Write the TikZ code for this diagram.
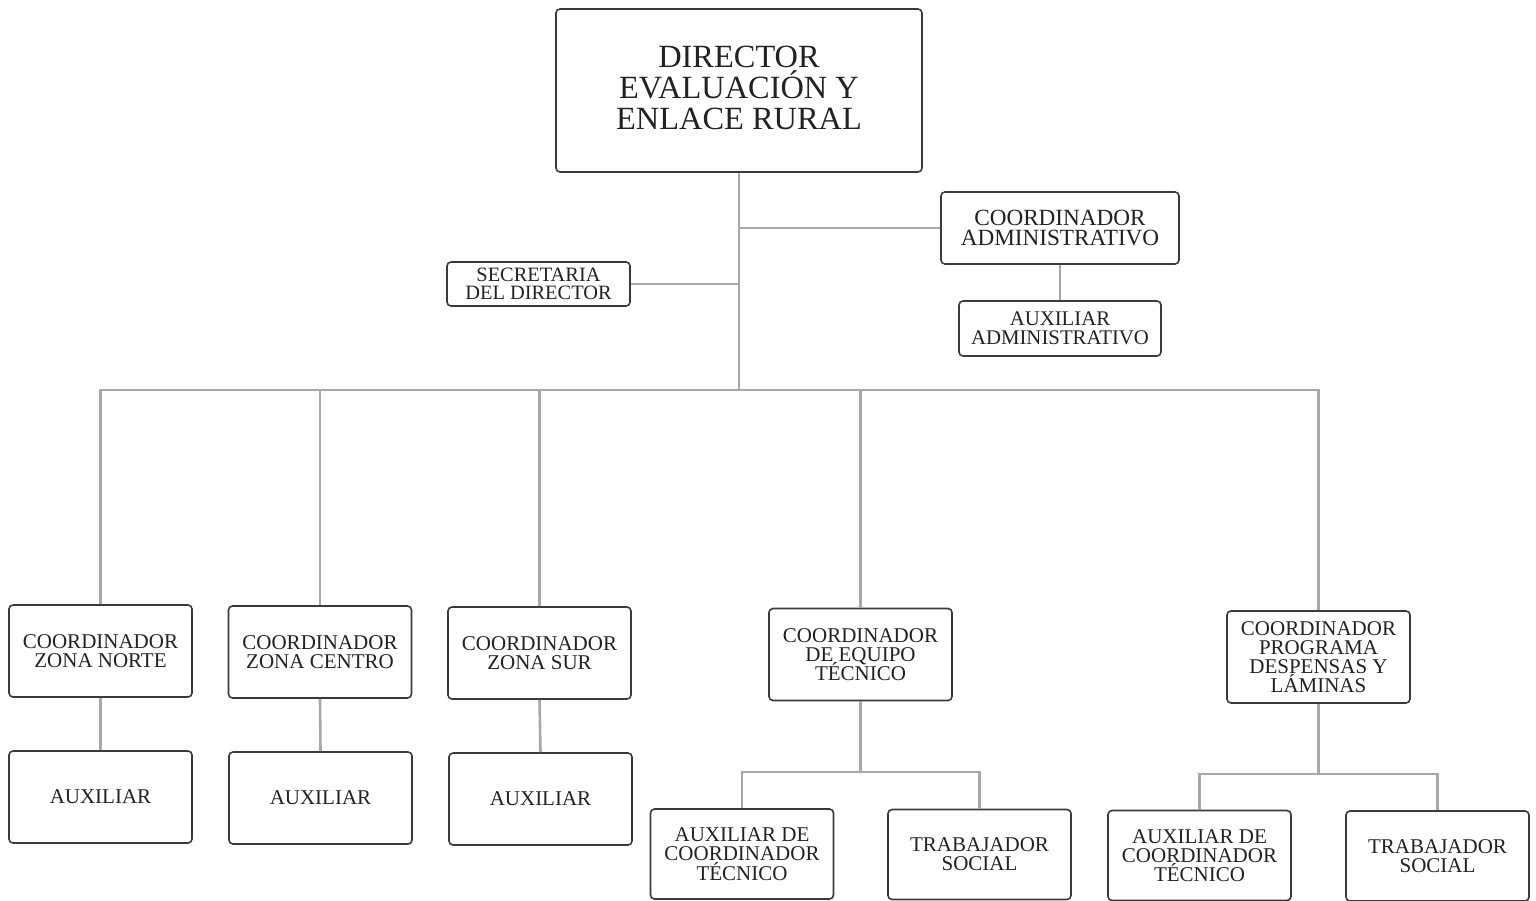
\documentclass[tikz,border=0pt]{standalone}
\usepackage{fontspec}
\setmainfont{Liberation Serif}
\begin{document}
\definecolor{boxline}{HTML}{3A3A3A}
\definecolor{linkgray}{HTML}{A8A8A8}
\definecolor{ink}{HTML}{222222}
\lineskiplimit=-\maxdimen
\begin{tikzpicture}[x=0.5pt,y=-0.5pt,
  box/.style={draw=boxline, line width=0.8pt, rounded corners=2pt, fill=white,
    align=center, inner sep=0pt, text=ink,
    minimum width=91.5pt, minimum height=46pt,
    font=\fontsize{10.5}{9.6}\selectfont},
  link/.style={draw=linkgray, line width=1.3pt}]
\useasboundingbox (0,0) rectangle (1536,900);

% top level
\node[box, minimum width=183pt, minimum height=81.5pt] (dir) at (739,90.5) {};
\node[align=center, inner sep=0pt, text=ink,
      font=\fontsize{16.2}{15.6}\selectfont] (dirtext) at (739,88)
  {DIRECTOR\\EVALUACIÓN Y\\ENLACE RURAL};

% staff positions
\node[box, minimum width=119pt, minimum height=36pt,
      font=\fontsize{11.6}{10.2}\selectfont] (cadm) at (1060,228)
  {COORDINADOR\\ADMINISTRATIVO};
\node[box, minimum width=101pt, minimum height=27.5pt,
      font=\fontsize{10.4}{9.4}\selectfont] (aadm) at (1060,328.5)
  {AUXILIAR\\ADMINISTRATIVO};
\node[box, minimum width=91.5pt, minimum height=22pt,
      font=\fontsize{10.2}{9.2}\selectfont] (sec) at (538.5,284)
  {SECRETARIA\\DEL DIRECTOR};

% coordinators
\node[box] (norte)  at (100.5,651) {COORDINADOR\\ZONA NORTE};
\node[box] (centro) at (320,652)   {COORDINADOR\\ZONA CENTRO};
\node[box] (sur)    at (539.5,653) {COORDINADOR\\ZONA SUR};
\node[box] (equipo) at (860.5,654.5) {COORDINADOR\\DE EQUIPO\\TÉCNICO};
\node[box] (prog)   at (1318.5,657) {COORDINADOR\\PROGRAMA\\DESPENSAS Y\\LÁMINAS};

% assistants of the zones
\node[box] (auxn) at (100.5,797) {AUXILIAR};
\node[box] (auxc) at (320.5,798) {AUXILIAR};
\node[box] (auxs) at (540.5,799) {AUXILIAR};

% technical teams
\node[box, minimum height=45pt] (auxe) at (742,854)   {AUXILIAR DE\\COORDINADOR\\TÉCNICO};
\node[box, minimum height=45pt] (trae) at (979.5,854.5) {TRABAJADOR\\SOCIAL};
\node[box, minimum height=45pt] (auxp) at (1199.5,855.5) {AUXILIAR DE\\COORDINADOR\\TÉCNICO};
\node[box, minimum height=45pt] (trap) at (1437.5,856) {TRABAJADOR\\SOCIAL};

% bus heights
\coordinate (bus) at (739,390);
\coordinate (buse) at (860.5,772);
\coordinate (busp) at (1318.5,774);

% connectors
\draw[link] (dir.south) -- (bus);
\draw[link] (dir.south |- cadm.west) -- (cadm.west);
\draw[link] (sec.east) -- (sec.east -| dir.south);
\draw[link] (cadm.south) -- (aadm.north);

\draw[link] (norte.north) -- (norte.north |- bus) -- (prog.north |- bus) -- (prog.north);
\draw[link] (centro.north) -- (centro.north |- bus);
\draw[link] (sur.north) -- (sur.north |- bus);
\draw[link] (equipo.north) -- (equipo.north |- bus);

\draw[link] (norte.south) -- (auxn.north);
\draw[link] (centro.south) -- (auxc.north);
\draw[link] (sur.south) -- (auxs.north);

\draw[link] (equipo.south) -- (buse);
\draw[link] (auxe.north) -- (auxe.north |- buse) -- (trae.north |- buse) -- (trae.north);
\draw[link] (prog.south) -- (busp);
\draw[link] (auxp.north) -- (auxp.north |- busp) -- (trap.north |- busp) -- (trap.north);
\end{tikzpicture}
\end{document}
